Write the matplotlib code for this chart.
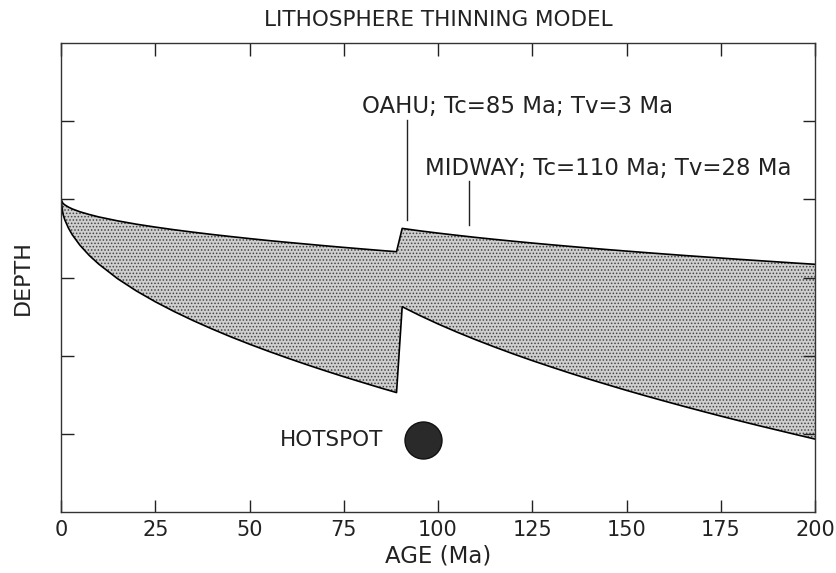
import matplotlib
matplotlib.use("Agg")
import matplotlib.pyplot as plt

# Data (depth in relative units, increasing downward)
age = [0, 0.5, 1, 2, 3, 5, 7.5, 10, 15, 20, 25, 30, 35, 40, 45, 50, 55, 60, 65, 70,
       75, 80, 85, 89, 90.5, 95, 100, 105, 110, 115, 120, 125, 130, 135, 140, 145,
       150, 155, 160, 165, 170, 175, 180, 185, 190, 195, 200]
depth_top = [2.000, 2.050, 2.071, 2.100, 2.123, 2.159, 2.194, 2.225, 2.275, 2.318,
             2.355, 2.389, 2.420, 2.449, 2.476, 2.502, 2.527, 2.550, 2.572, 2.594,
             2.615, 2.635, 2.655, 2.670,
             2.372, 2.402, 2.432, 2.460, 2.487, 2.512, 2.536, 2.559, 2.581, 2.602,
             2.623, 2.643, 2.662, 2.681, 2.699, 2.717, 2.734, 2.751, 2.768, 2.784,
             2.800, 2.816, 2.831]
depth_bottom = [2.000, 2.185, 2.262, 2.370, 2.454, 2.586, 2.718, 2.828, 3.015, 3.172,
                3.310, 3.435, 3.550, 3.657, 3.758, 3.853, 3.943, 4.029, 4.112, 4.192,
                4.269, 4.343, 4.416, 4.472,
                3.374, 3.482, 3.594, 3.698, 3.796, 3.889, 3.978, 4.063, 4.144, 4.223,
                4.299, 4.372, 4.444, 4.513, 4.580, 4.646, 4.710, 4.773, 4.834, 4.894,
                4.952, 5.010, 5.067]

x_ticks = [0, 25, 50, 75, 100, 125, 150, 175, 200]
y_ticks = [1, 2, 3, 4, 5]

hotspot_age = 96
hotspot_depth = 5.08

oahu_age = 91.8
oahu_line = (0.99, 2.26)
oahu_text = "OAHU; Tc=85 Ma; Tv=3 Ma"
midway_age = 108.2
midway_line = (1.77, 2.33)
midway_text = "MIDWAY; Tc=110 Ma; Tv=28 Ma"

plt.rcParams['font.family'] = ['DejaVu Sans']
plt.rcParams['hatch.linewidth'] = 0.7

fig = plt.figure(figsize=(8.36, 5.73), dpi=100)
ax = fig.add_axes([61/836, 1-512/573, (815-61)/836, (512-43)/573])

ax.fill_between(age, depth_top, depth_bottom, facecolor='#cfcfcf',
                edgecolor='#444444', hatch='.....', linewidth=0)
ax.plot(age, depth_top, color='black', lw=1.2)
ax.plot(age, depth_bottom, color='black', lw=1.2)

ax.scatter([hotspot_age], [hotspot_depth], s=(37*0.72)**2, color='#2a2a2a',
           edgecolor='#111111', zorder=5)
ax.text(hotspot_age - 10.5, hotspot_depth, "HOTSPOT", ha='right', va='center',
        fontsize=15.5, color='#222222')

ax.plot([oahu_age, oahu_age], oahu_line, color='#222222', lw=1)
ax.plot([midway_age, midway_age], midway_line, color='#222222', lw=1)
ax.text(79.8, 0.81, oahu_text, ha='left', va='center', fontsize=16.5, color='#222222')
ax.text(96.5, 1.60, midway_text, ha='left', va='center', fontsize=16.5, color='#222222')

ax.set_xlim(0, 200)
ax.set_ylim(6, 0)
ax.set_xticks(x_ticks)
ax.set_xticklabels([str(v) for v in x_ticks], fontsize=15, color='#222222')
ax.set_yticks(y_ticks)
ax.set_yticklabels([])
ax.tick_params(direction='in', length=9, width=1, top=True, right=True,
               pad=6, colors='#222222')
for s in ax.spines.values():
    s.set_linewidth(1)
    s.set_color('#333333')

ax.set_xlabel("AGE (Ma)", fontsize=16.5, color='#222222', labelpad=3)
ax.set_ylabel("DEPTH", fontsize=16, color='#222222', labelpad=14)
ax.set_title("LITHOSPHERE THINNING MODEL", fontsize=15.5, color='#222222', pad=12)

fig.savefig("out.png", dpi=100)
